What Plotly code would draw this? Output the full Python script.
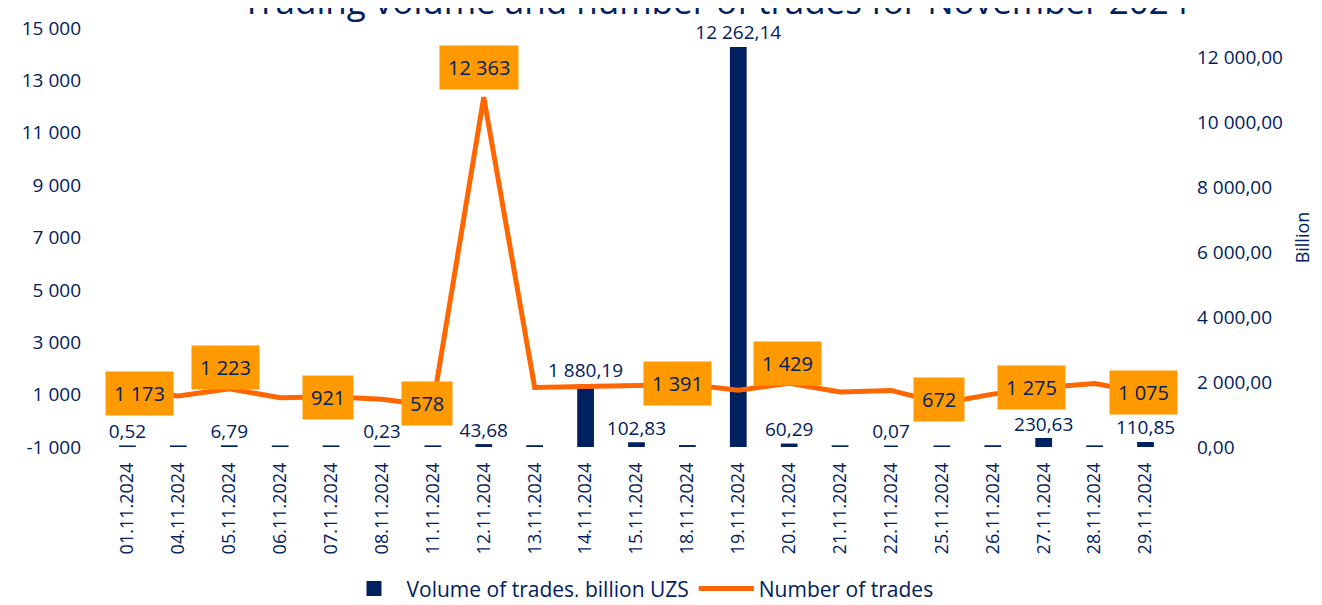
import plotly.graph_objects as go

dates = ["01.11.2024", "04.11.2024", "05.11.2024", "06.11.2024", "07.11.2024",
         "08.11.2024", "11.11.2024", "12.11.2024", "13.11.2024", "14.11.2024",
         "15.11.2024", "18.11.2024", "19.11.2024", "20.11.2024", "21.11.2024",
         "22.11.2024", "25.11.2024", "26.11.2024", "27.11.2024", "28.11.2024",
         "29.11.2024"]

# volume, billion UZS (unlabelled days estimated as tiny values)
volume = [0.52, 2.10, 6.79, 1.40, 3.20, 0.23, 4.50, 43.68, 9.80, 1880.19,
          102.83, 12.40, 12262.14, 60.29, 5.30, 0.07, 1.90, 7.60, 230.63, 3.80,
          110.85]
volume_shown = [True, False, True, False, False, True, False, True, False, True,
                True, False, True, True, False, True, False, False, True, False,
                True]

# number of trades
trades = [1173, 950, 1223, 880, 921, 820, 578, 12363, 1270, 1310,
          1350, 1391, 1170, 1429, 1100, 1160, 672, 1020, 1275, 1420,
          1075]
trades_shown = [True, False, True, False, True, False, True, True, False, False,
                False, True, False, True, False, False, True, False, True, False,
                True]

left_ticks = [-1000, 1000, 3000, 5000, 7000, 9000, 11000, 13000, 15000]
left_text = ["-1 000", "1 000", "3 000", "5 000", "7 000", "9 000", "11 000",
             "13 000", "15 000"]
right_ticks = [0, 2000, 4000, 6000, 8000, 10000, 12000]
right_text = ["0,00", "2 000,00", "4 000,00", "6 000,00", "8 000,00",
              "10 000,00", "12 000,00"]

NAVY = "#002060"
FONT = "Open Sans"


def fmt_vol(v):
    return f"{v:,.2f}".replace(",", " ").replace(".", ",")


def fmt_int(v):
    return f"{v:,}".replace(",", " ")


vol_text = [fmt_vol(v) if s else "" for v, s in zip(volume, volume_shown)]

fig = go.Figure()

fig.add_trace(go.Bar(
    x=dates, y=volume, name="Volume of trades, billion UZS",
    yaxis="y", width=0.27,
    marker=dict(color=NAVY, line=dict(color=NAVY, width=3)),
    text=vol_text, textposition="outside", cliponaxis=False,
    constraintext="none",
    textfont=dict(family=FONT, size=19, color=NAVY),
))

fig.add_trace(go.Scatter(
    x=dates, y=trades, name="Number of trades", yaxis="y2",
    mode="lines", line=dict(color="#ff6600", width=5),
    cliponaxis=False,
))

# label offsets (px) for the orange boxes, as placed in the original
shifts = {0: (12, -3), 2: (-4, 21), 4: (-3, -1), 6: (-6, 2), 7: (-5, 30),
          11: (-10, 1), 13: (-2, 20), 16: (-3, 4), 18: (-12, 0), 20: (-2, 0)}

for i, (d, v, s) in enumerate(zip(dates, trades, trades_shown)):
    if not s:
        continue
    dx, dy = shifts.get(i, (0, 0))
    fig.add_annotation(
        x=d, y=v, xref="x", yref="y2", text=fmt_int(v), showarrow=False,
        xshift=dx, yshift=dy, bgcolor="#ff9900", borderpad=8,
        font=dict(family=FONT, size=20, color=NAVY),
    )

# title sits partly above the page, as in the original
fig.add_annotation(
    text="Trading volume and number of trades for November 2024",
    xref="paper", yref="paper", x=0.57, y=1.066, xanchor="center",
    yanchor="middle", showarrow=False,
    font=dict(family=FONT, size=35, color=NAVY),
)

# page body adds an 8px margin, so the figure is a little smaller than the window
fig.update_layout(
    width=1306, height=589,
    margin=dict(l=94, r=136, t=20, b=150),
    plot_bgcolor="white", paper_bgcolor="white",
    font=dict(family=FONT, color=NAVY),
    bargap=0.7,
    xaxis=dict(
        type="category", tickangle=-90, showgrid=False, showline=False,
        tickfont=dict(family=FONT, size=18, color=NAVY), ticks="",
        ticklabelstandoff=11, automargin=False,
    ),
    yaxis=dict(
        side="right", range=[0, 12892], showgrid=False, zeroline=False,
        tickvals=right_ticks, ticktext=right_text, ticks="",
        tickfont=dict(family=FONT, size=19, color=NAVY),
        ticklabelstandoff=18, automargin=False,
        title=dict(text="Billion", font=dict(family=FONT, size=18, color=NAVY),
                   standoff=30),
    ),
    yaxis2=dict(
        side="left", overlaying="y", range=[-1000, 15000], showgrid=False,
        zeroline=False, tickvals=left_ticks, ticktext=left_text, ticks="",
        tickfont=dict(family=FONT, size=19, color=NAVY),
        ticklabelstandoff=20, automargin=False,
    ),
    showlegend=True,
    legend=dict(
        orientation="h", x=0.5, xanchor="center", yref="container",
        y=0.014, yanchor="middle",
        font=dict(family=FONT, size=21, color=NAVY), itemwidth=55,
        bgcolor="rgba(0,0,0,0)",
    ),
)

fig.write_html("out.html")
